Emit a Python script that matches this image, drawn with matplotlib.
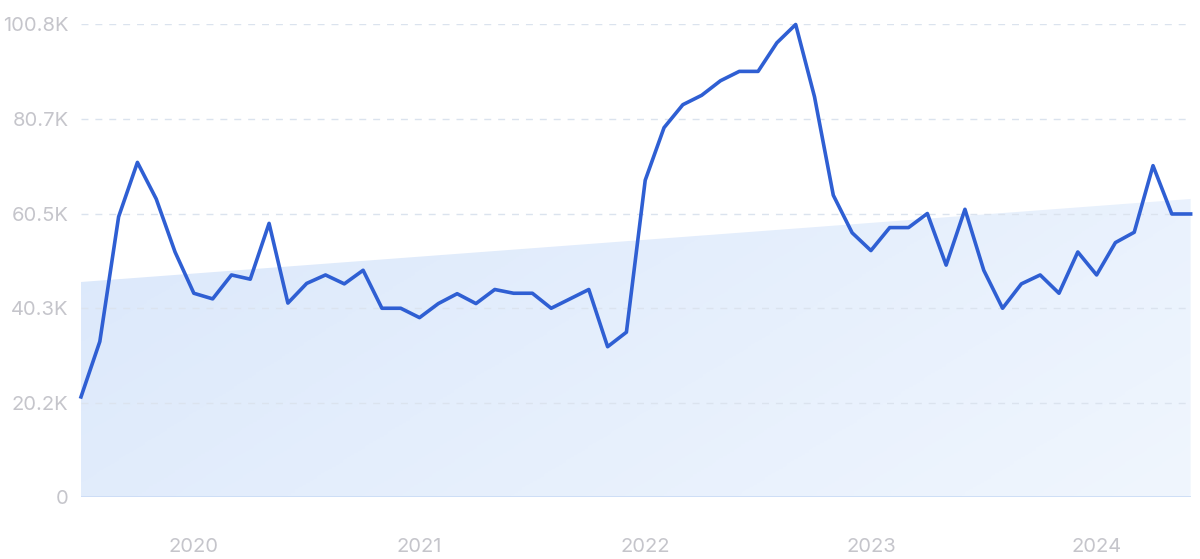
import numpy as np
import pandas as pd
import matplotlib
matplotlib.use("Agg")
import matplotlib.pyplot as plt
from matplotlib.colors import LinearSegmentedColormap
from matplotlib.patches import Polygon

# monthly values (thousands), Jul 2019 .. Jun 2024
months = pd.date_range("2019-07-01", periods=60, freq="MS")
volume = [21.4, 33.2, 59.8, 71.4, 63.6, 52.3, 43.5, 42.3, 47.4, 46.5,
          58.4, 41.4, 45.6, 47.4, 45.5, 48.4, 40.3, 40.3, 38.3, 41.3,
          43.4, 41.3, 44.3, 43.5, 43.5, 40.3, 42.3, 44.3, 32.1, 35.2,
          67.6, 78.8, 83.7, 85.7, 88.8, 90.8, 90.8, 96.9, 100.8, 85.4,
          64.4, 56.4, 52.6, 57.5, 57.5, 60.5, 49.5, 61.4, 48.4, 40.3,
          45.5, 47.4, 43.5, 52.3, 47.4, 54.3, 56.5, 70.7, 60.4, 60.4]
trend_start, trend_end = 45.9, 63.6

yticks = [0, 20.16, 40.32, 60.48, 80.64, 100.8]
ytick_labels = ["0", "20.2K", "40.3K", "60.5K", "80.7K", "100.8K"]
year_ticks = ["2020", "2021", "2022", "2023", "2024"]

plt.rcParams["font.family"] = ["Inter", "DejaVu Sans"]

fig = plt.figure(figsize=(12, 5.59), dpi=100)
ax = fig.add_axes([0.0675, 0.1104, 0.9247, 0.8458])

x = np.arange(len(volume))
ax.set_xlim(x[0], x[-1])
ax.set_ylim(0, 100.8)

# gradient-filled trend area
poly = Polygon([(x[0], 0), (x[0], trend_start), (x[-1], trend_end), (x[-1], 0)],
               closed=True, facecolor="none", edgecolor="none")
ax.add_patch(poly)
cmap = LinearSegmentedColormap.from_list("fill", ["#dbe8fb", "#f0f6fe"])
gx, gy = np.meshgrid(np.linspace(0, 1, 300), np.linspace(0, 1, 150))
grad = 0.7 * gx + 0.3 * gy
img = ax.imshow(grad, cmap=cmap, extent=[x[0], x[-1], 0, trend_end],
                origin="upper", aspect="auto", zorder=1)
img.set_clip_path(poly)

# grid
for v in yticks[1:]:
    ax.axhline(v, color="#dbe3ee", lw=1, ls=(0, (5, 5)), zorder=2)
ax.axhline(0, color="#c9dbf5", lw=1.2, zorder=2)

ax.plot(x, volume, color="#2f5fd3", lw=2.6, zorder=3, clip_on=False,
        solid_joinstyle="round")

for s in ax.spines.values():
    s.set_visible(False)
ax.set_yticks(yticks)
ax.set_yticklabels(ytick_labels)
ax.set_xticks([6, 18, 30, 42, 54])
ax.set_xticklabels(year_ticks)
ax.tick_params(axis="both", length=0, labelsize=14.5, colors="#c5c5cb")
ax.tick_params(axis="y", pad=9)
ax.tick_params(axis="x", pad=29)

fig.savefig("out.png", dpi=100, facecolor="white")
